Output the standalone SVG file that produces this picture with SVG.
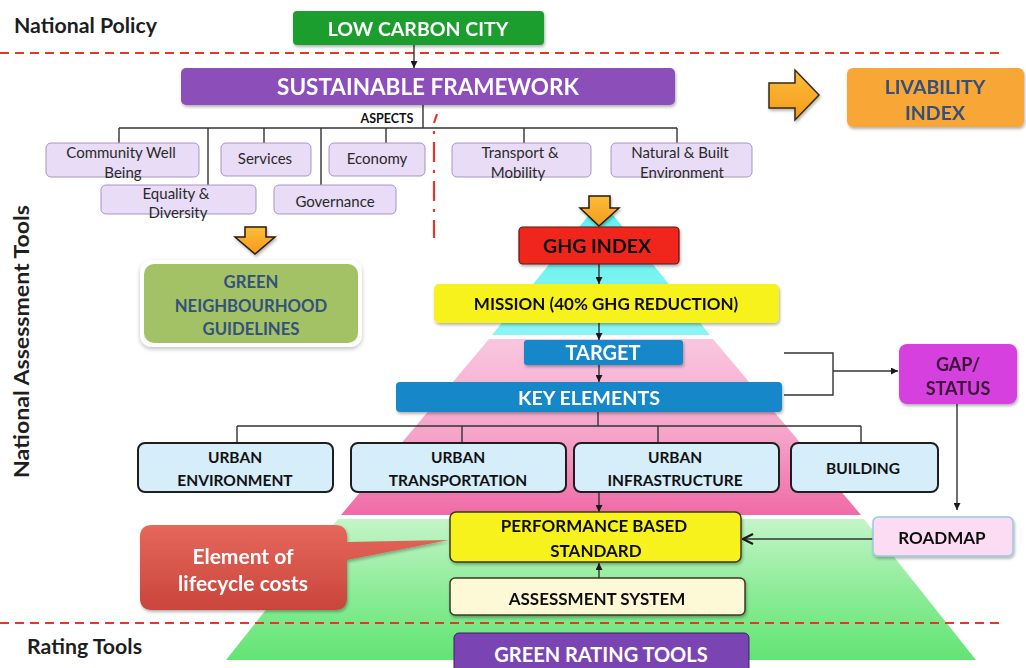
<svg xmlns="http://www.w3.org/2000/svg" width="1026" height="668" viewBox="0 0 1026 668">
  <defs>
    <linearGradient id="gCyan" x1="0" y1="0" x2="0" y2="1">
      <stop offset="0" stop-color="#5ff0f0"/>
      <stop offset="1" stop-color="#8cf4f4"/>
    </linearGradient>
    <linearGradient id="gPink" x1="0" y1="0" x2="0" y2="1">
      <stop offset="0" stop-color="#f9c6df"/>
      <stop offset="0.55" stop-color="#f5a3c9"/>
      <stop offset="1" stop-color="#f06aa6"/>
    </linearGradient>
    <linearGradient id="gGreen" x1="0" y1="0" x2="0" y2="1">
      <stop offset="0" stop-color="#c4f5c8"/>
      <stop offset="0.5" stop-color="#8eec98"/>
      <stop offset="1" stop-color="#62e474"/>
    </linearGradient>
    <linearGradient id="gOrange" x1="0" y1="0" x2="0" y2="1">
      <stop offset="0" stop-color="#fbbd3a"/>
      <stop offset="1" stop-color="#f59a1c"/>
    </linearGradient>
    <linearGradient id="gCallout" x1="0" y1="0" x2="0" y2="1">
      <stop offset="0" stop-color="#e6675c"/>
      <stop offset="1" stop-color="#c9453b"/>
    </linearGradient>
    <filter id="shadow" x="-10%" y="-20%" width="125%" height="150%">
      <feDropShadow dx="1" dy="2" stdDeviation="1.5" flood-color="#000" flood-opacity="0.3"/>
    </filter>
    <filter id="glow" x="-10%" y="-10%" width="120%" height="125%">
      <feDropShadow dx="0" dy="2" stdDeviation="2" flood-color="#000" flood-opacity="0.25"/>
    </filter>
    <marker id="arr" viewBox="0 0 10 10" refX="10" refY="5" markerWidth="7" markerHeight="7" orient="auto-start-reverse" markerUnits="userSpaceOnUse">
      <path d="M0,0 L10,5 L0,10 z" fill="#1a1a1a"/>
    </marker>
    <marker id="open" viewBox="0 0 12 12" refX="11" refY="6" markerWidth="12" markerHeight="12" orient="auto" markerUnits="userSpaceOnUse">
      <path d="M1,1 L11,6 L1,11" fill="none" stroke="#1a1a1a" stroke-width="2.2"/>
    </marker>
  </defs>
  <style>
    text { font-family: Lato, "Liberation Sans", sans-serif; font-weight: bold; text-anchor: middle; }
    .lbl { text-anchor: start; fill: #1e1e1e; font-size: 21px; }
    .asp { fill: #e8dcf6; stroke: #a894c4; stroke-width: 1; }
    .aspT { font-weight: normal; font-size: 15px; fill: #2a2a2a; }
    .elem { fill: #d6edfa; stroke: #1e1e1e; stroke-width: 2; }
    .elT { font-size: 15.5px; fill: #111; }
    .dk { fill: #111; }
    .wt { fill: #fff; }
    .nb { fill: #34507c; }
    .wire { fill: none; stroke: #333; stroke-width: 1.4; }
    .sep { stroke: #e8352a; stroke-width: 2; stroke-dasharray: 9 6; }
  </style>

  <rect width="1026" height="668" fill="#fff"/>

  <!-- pyramid bands -->
  <g id="pyramid">
    <polygon points="601,200 710,335 492,335" fill="url(#gCyan)"/>
    <polygon points="489,339 713,339 861,515 341,515" fill="url(#gPink)"/>
    <polygon points="338,519 864,519 976,660 226,660" fill="url(#gGreen)"/>
  </g>

  <!-- section separators and side labels -->
  <line class="sep" x1="0" y1="53" x2="1002" y2="53"/>
  <line class="sep" x1="0" y1="623" x2="1002" y2="623"/>
  <path d="M437,114 L434,123 M434,131 L434,134 M434,142 L434,162 M434,170 L434,173 M434,181 L434,201 M434,209 L434,212 M434,220 L434,238" stroke="#e8352a" stroke-width="2.2" fill="none"/>
  <text class="lbl" x="14" y="33" textLength="143" lengthAdjust="spacingAndGlyphs">National Policy</text>
  <text class="lbl" x="27" y="654" textLength="115" lengthAdjust="spacingAndGlyphs">Rating Tools</text>
  <text class="lbl" x="0" y="0" font-size="20" transform="translate(29,478) rotate(-90)" textLength="273" lengthAdjust="spacingAndGlyphs">National  Assessment Tools</text>

  <!-- connectors -->
  <g id="connectors">
    <line class="wire" x1="414" y1="45" x2="414" y2="68" marker-end="url(#arr)"/>
    <path class="wire" d="M423,105 V128 M119,128 H677 M119,128 V143 M208,128 V185 M264,128 V143 M321,128 V185 M386,128 V143 M524,128 V143 M677,128 V143"/>
    <line class="wire" x1="599" y1="264" x2="599" y2="284" marker-end="url(#arr)"/>
    <line class="wire" x1="599" y1="323" x2="599" y2="340" marker-end="url(#arr)"/>
    <line class="wire" x1="599" y1="365" x2="599" y2="382" marker-end="url(#arr)"/>
    <path class="wire" d="M784,353 H833 V395 H784"/>
    <line class="wire" x1="833" y1="371" x2="898" y2="371" marker-end="url(#arr)"/>
    <line class="wire" x1="957" y1="404" x2="957" y2="510" marker-end="url(#arr)"/>
    <path class="wire" d="M598,412 V426 M237,426 H861 M237,426 V443 M462,426 V443 M658,426 V443 M861,426 V443" stroke="#1a1a1a" stroke-width="2"/>
    <line class="wire" x1="599" y1="492" x2="599" y2="512" marker-end="url(#arr)"/>
    <line class="wire" x1="599" y1="578" x2="599" y2="563" marker-end="url(#arr)"/>
    <line class="wire" x1="873" y1="539" x2="743" y2="539" stroke-width="1.8" marker-end="url(#open)"/>
  </g>

  <!-- top of the hierarchy -->
  <g id="low-carbon-city" filter="url(#shadow)">
    <rect x="293" y="11" width="251" height="34" rx="4" fill="#1f9e2e"/>
    <text class="wt" x="418" y="36" font-size="19.5">LOW CARBON CITY</text>
  </g>
  <g id="sustainable-framework" filter="url(#shadow)">
    <rect x="181" y="68" width="494" height="37" rx="5" fill="#8c4fba"/>
    <text class="wt" x="428" y="95" font-size="22.5">SUSTAINABLE FRAMEWORK</text>
  </g>
  <text x="387" y="123" font-size="12.5" fill="#111">ASPECTS</text>

  <g id="block-arrow-right" filter="url(#shadow)">
    <path d="M769,83 H795 V70 L819,95 L795,120 V108 H769 Z" fill="url(#gOrange)" stroke="#3a2a10" stroke-width="1.5"/>
  </g>
  <g id="livability-index" filter="url(#shadow)">
    <rect x="847" y="68" width="177" height="59" rx="6" fill="#f8a634"/>
    <text class="nb" x="935" y="94" font-size="19.5">LIVABILITY</text>
    <text class="nb" x="935" y="120" font-size="19.5">INDEX</text>
  </g>

  <!-- aspects -->
  <g id="aspect-community">
    <rect class="asp" x="46" y="143" width="153" height="34" rx="5"/>
    <text class="aspT" x="121" y="158">Community Well</text>
    <text class="aspT" x="123" y="178">Being</text>
  </g>
  <g id="aspect-services">
    <rect class="asp" x="221" y="143" width="90" height="33" rx="5"/>
    <text class="aspT" x="265" y="164">Services</text>
  </g>
  <g id="aspect-economy">
    <rect class="asp" x="329" y="143" width="96" height="33" rx="5"/>
    <text class="aspT" x="377" y="164">Economy</text>
  </g>
  <g id="aspect-equality">
    <rect class="asp" x="101" y="185" width="155" height="29" rx="5"/>
    <text class="aspT" x="176" y="199">Equality &amp;</text>
    <text class="aspT" x="178" y="218">Diversity</text>
  </g>
  <g id="aspect-governance">
    <rect class="asp" x="274" y="185" width="122" height="29" rx="5"/>
    <text class="aspT" x="335" y="207">Governance</text>
  </g>
  <g id="aspect-transport">
    <rect class="asp" x="452" y="143" width="139" height="34" rx="5"/>
    <text class="aspT" x="520" y="158">Transport &amp;</text>
    <text class="aspT" x="518" y="178">Mobility</text>
  </g>
  <g id="aspect-natural">
    <rect class="asp" x="611" y="143" width="141" height="34" rx="5"/>
    <text class="aspT" x="680" y="158">Natural &amp; Built</text>
    <text class="aspT" x="682" y="178">Environment</text>
  </g>

  <!-- down arrows -->
  <g id="block-arrow-left-down" filter="url(#shadow)">
    <path d="M245,227 H266 V237 H275 L255,254 L235,237 H245 Z" fill="url(#gOrange)" stroke="#2a1a08" stroke-width="1.5"/>
  </g>
  <g id="block-arrow-ghg-down" filter="url(#shadow)">
    <path d="M589,196 H610 V208 H619 L599,226 L580,208 H589 Z" fill="url(#gOrange)" stroke="#2a1a08" stroke-width="1.5"/>
  </g>

  <g id="green-neighbourhood">
    <rect x="140" y="260" width="222" height="87" rx="12" fill="#fff" filter="url(#glow)"/>
    <rect x="144" y="264" width="214" height="79" rx="10" fill="#a3c266"/>
    <text class="nb" x="251" y="288" font-size="16.7">GREEN</text>
    <text class="nb" x="251" y="312" font-size="16.7">NEIGHBOURHOOD</text>
    <text class="nb" x="251" y="335" font-size="16.7">GUIDELINES</text>
  </g>

  <!-- pyramid chain -->
  <g id="ghg-index" filter="url(#shadow)">
    <rect x="519" y="227" width="160" height="37" rx="4" fill="#f0281a" stroke="#5a1a10" stroke-width="1.2"/>
    <text class="dk" x="597" y="253" font-size="19.5">GHG INDEX</text>
  </g>
  <g id="mission" filter="url(#shadow)">
    <rect x="434" y="284" width="345" height="39" rx="5" fill="#f8f21e"/>
    <text class="dk" x="606" y="310" font-size="17">MISSION (40% GHG REDUCTION)</text>
  </g>
  <g id="target" filter="url(#shadow)">
    <rect x="524" y="340" width="159" height="25" rx="3" fill="#1787c9"/>
    <text class="wt" x="603" y="360" font-size="20">TARGET</text>
  </g>
  <g id="key-elements" filter="url(#shadow)">
    <rect x="396" y="382" width="386" height="30" rx="4" fill="#1787c9"/>
    <text class="wt" x="589" y="405" font-size="19.7">KEY ELEMENTS</text>
  </g>
  <g id="gap-status" filter="url(#shadow)">
    <rect x="899" y="344" width="118" height="60" rx="8" fill="#d540de"/>
    <text x="958" y="371" font-size="18" fill="#3a1436">GAP/</text>
    <text x="958" y="395" font-size="18" fill="#3a1436">STATUS</text>
  </g>

  <!-- key elements -->
  <g id="urban-environment">
    <rect class="elem" x="138" y="443" width="195" height="49" rx="7"/>
    <text class="elT" x="235" y="463">URBAN</text>
    <text class="elT" x="235" y="486">ENVIRONMENT</text>
  </g>
  <g id="urban-transportation">
    <rect class="elem" x="351" y="443" width="215" height="49" rx="7"/>
    <text class="elT" x="458" y="463">URBAN</text>
    <text class="elT" x="458" y="486">TRANSPORTATION</text>
  </g>
  <g id="urban-infrastructure">
    <rect class="elem" x="574" y="443" width="205" height="49" rx="7"/>
    <text class="elT" x="675" y="463">URBAN</text>
    <text class="elT" x="675" y="486">INFRASTRUCTURE</text>
  </g>
  <g id="building">
    <rect class="elem" x="791" y="443" width="147" height="49" rx="7"/>
    <text class="elT" x="863" y="474">BUILDING</text>
  </g>

  <!-- standards -->
  <g id="performance-based-standard" filter="url(#shadow)">
    <rect x="450" y="512" width="291" height="50" rx="6" fill="#f8f21e" stroke="#3a3a10" stroke-width="1.5"/>
    <text class="dk" x="594" y="532" font-size="17">PERFORMANCE BASED</text>
    <text class="dk" x="596" y="557" font-size="17">STANDARD</text>
  </g>
  <g id="roadmap" filter="url(#shadow)">
    <rect x="873" y="517" width="140" height="39" rx="5" fill="#fbdcf3" stroke="#9cc8e0" stroke-width="1.5"/>
    <text class="dk" x="942" y="544" font-size="17">ROADMAP</text>
  </g>
  <g id="assessment-system" filter="url(#shadow)">
    <rect x="450" y="578" width="295" height="37" rx="5" fill="#fdf8d6" stroke="#3a3a20" stroke-width="1.5"/>
    <text class="dk" x="597" y="605" font-size="17">ASSESSMENT SYSTEM</text>
  </g>

  <g id="lifecycle-costs" filter="url(#shadow)">
    <path d="M152,525 H335 Q347,525 347,537 V542 L449,540 L347,560 V598 Q347,610 335,610 H152 Q140,610 140,598 V537 Q140,525 152,525 Z" fill="url(#gCallout)"/>
    <text class="wt" x="243" y="564" font-size="21">Element of</text>
    <text class="wt" x="243" y="591" font-size="21">lifecycle costs</text>
  </g>

  <g id="green-rating-tools">
    <rect x="454" y="633" width="295" height="42" rx="5" fill="#7a45b2" stroke="#3a2060" stroke-width="1"/>
    <text class="wt" x="601" y="662" font-size="20">GREEN RATING TOOLS</text>
  </g>
</svg>
